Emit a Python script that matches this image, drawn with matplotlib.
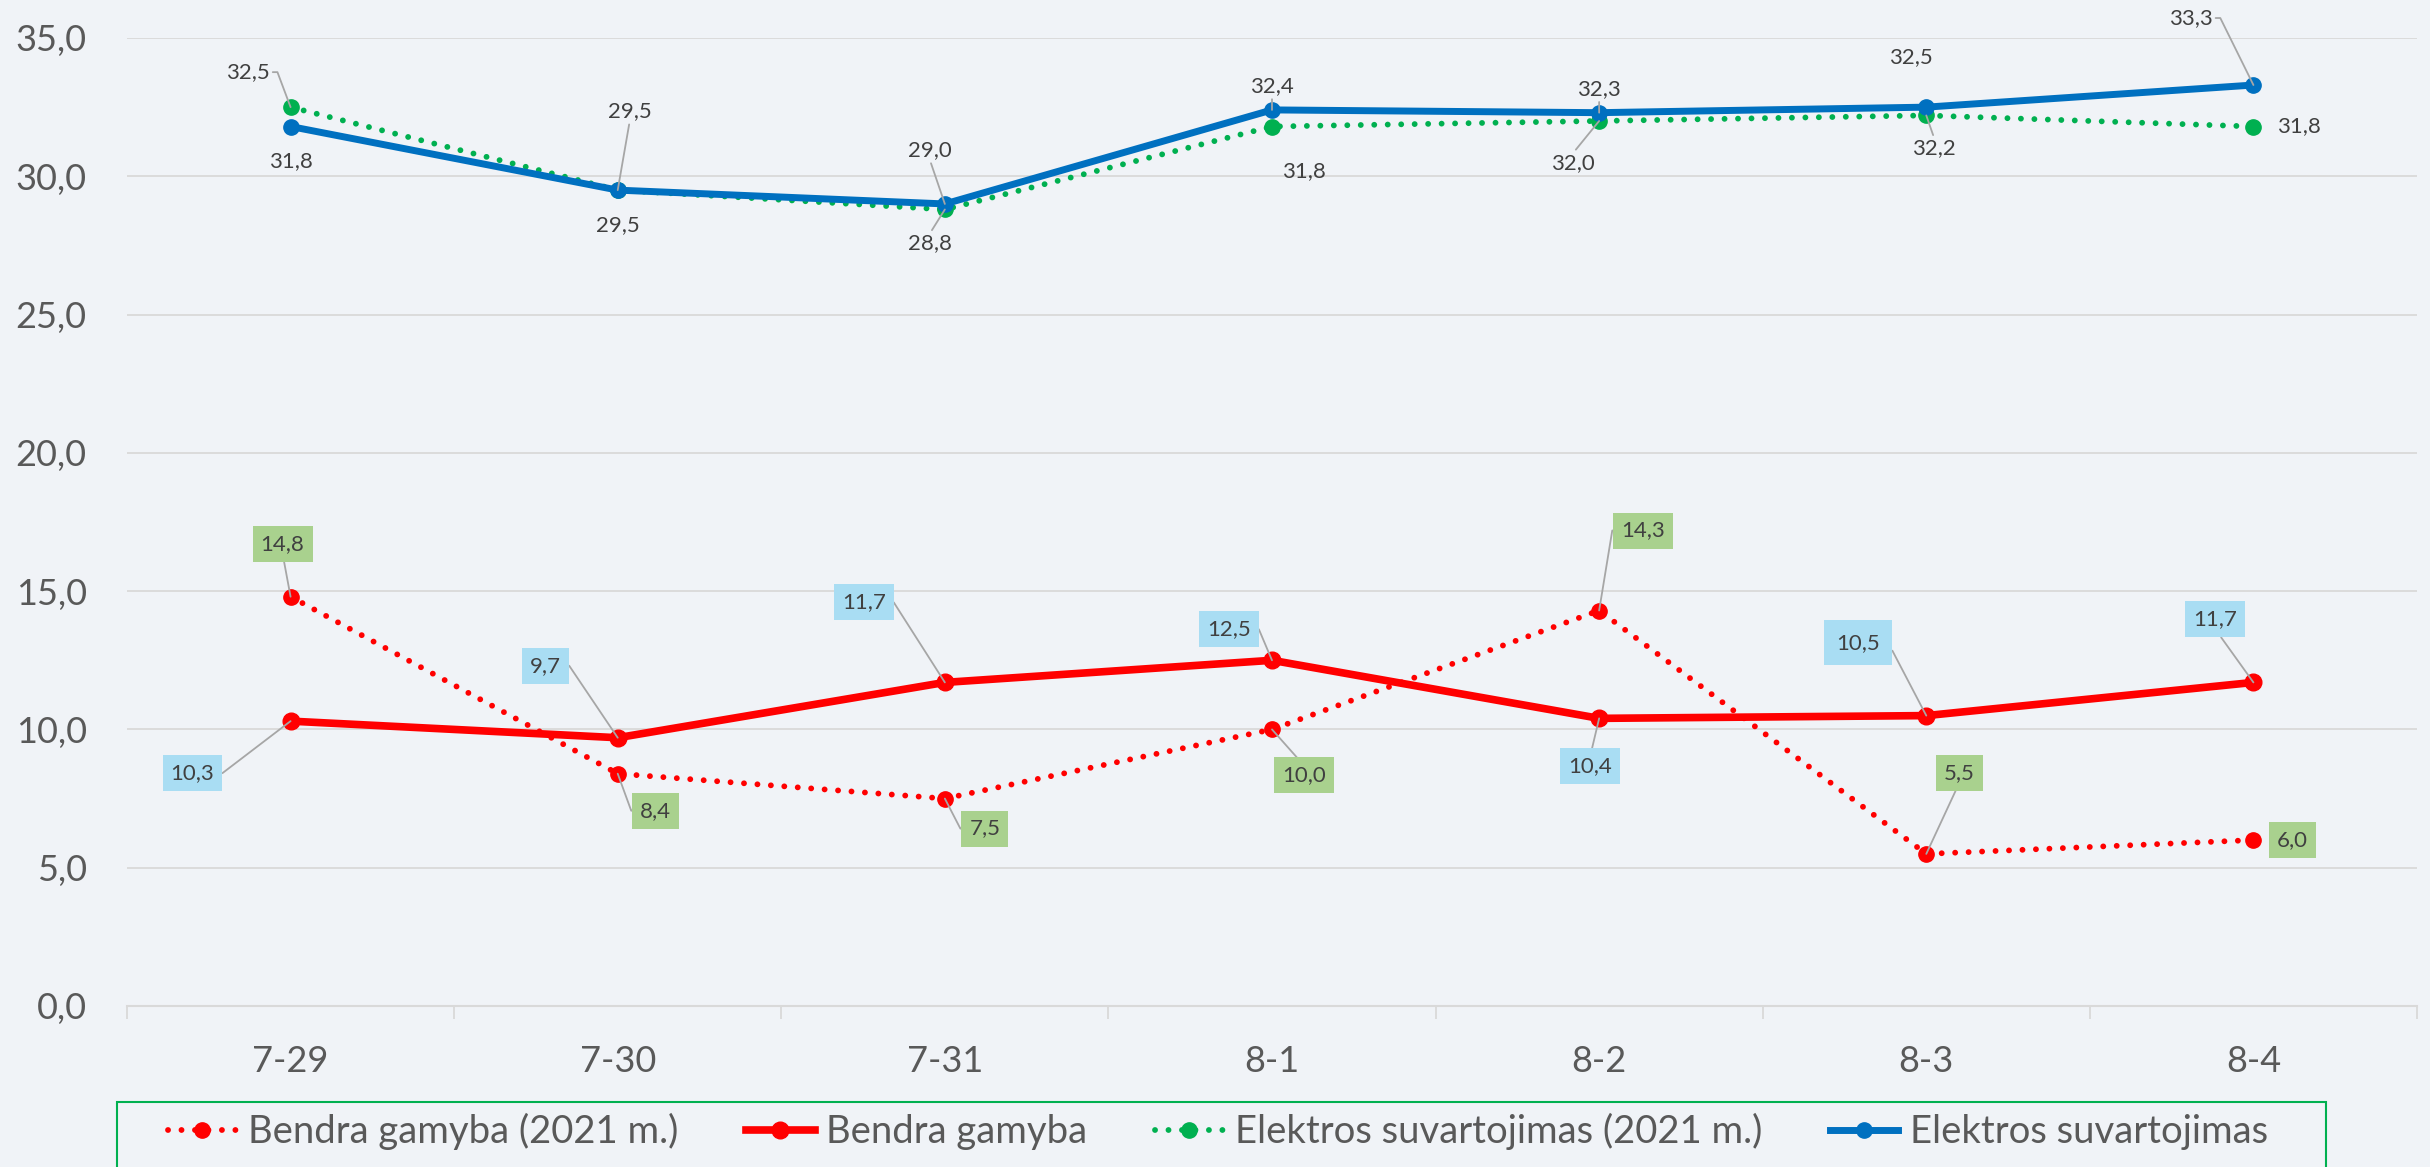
import numpy as np
import matplotlib
matplotlib.use("Agg")
import matplotlib.pyplot as plt
from matplotlib.patches import Rectangle

days = ["7-29", "7-30", "7-31", "8-1", "8-2", "8-3", "8-4"]
gen_2021 = [14.8, 8.4, 7.5, 10.0, 14.3, 5.5, 6.0]
gen = [10.3, 9.7, 11.7, 12.5, 10.4, 10.5, 11.7]
cons_2021 = [32.5, 29.5, 28.8, 31.8, 32.0, 32.2, 31.8]
cons = [31.8, 29.5, 29.0, 32.4, 32.3, 32.5, 33.3]
y_ticks = [0, 5, 10, 15, 20, 25, 30, 35]

# label placement: offset in pixels (right, down) and leader style
gen_2021_lbl = [(-8, -53, "up"), (38, 37, "left"), (40, 30, "left"), (32, 46, "down"),
                (44, -80, "left"), (33, -81, "up"), (39, 0, None)]
gen_lbl = [(-98, 52, "right"), (-72, -72, "right"), (-81, -80, "right"), (-43, -31, "right"),
           (-9, 48, "down"), (-68, -73, "right"), (-38, -63, "up")]
cons_2021_lbl = [(-43, -35, "right"), (0, 35, None), (-15, 34, "down"), (32, 45, None),
                 (-26, 42, "down"), (8, 33, "down"), (46, 0, None)]
cons_lbl = [(0, 35, None), (12, -79, "up"), (-15, -54, "up"), (0, -24, "up"),
            (0, -24, "up"), (-15, -50, None), (-63, -67, "right")]

RED = "#FF0000"
GREEN = "#00B050"
BLUE = "#0070C0"
BG = "#F0F3F7"
GRID = "#D9D9D9"
LEAD = "#A6A6A6"

plt.rcParams["font.family"] = ["Lato", "DejaVu Sans"]

fig = plt.figure(figsize=(24.3, 11.67), dpi=100, facecolor=BG)
ax = fig.add_axes([127 / 2430, 1 - 1006 / 1167, 2290 / 2430, (1006 - 38) / 1167])
ax.set_facecolor(BG)

x = np.arange(len(days))
dots = (0, (0.01, 2.3))

ax.plot(x, gen_2021, color=RED, lw=4.2, ls=dots, dash_capstyle="round",
        marker="o", ms=11, label="Bendra gamyba (2021 m.)", zorder=3)
ax.plot(x, gen, color=RED, lw=5.5, marker="o", ms=12, label="Bendra gamyba", zorder=3)
ax.plot(x, cons_2021, color=GREEN, lw=4.2, ls=dots, dash_capstyle="round",
        marker="o", ms=11, label="Elektros suvartojimas (2021 m.)", zorder=3)
ax.plot(x, cons, color=BLUE, lw=5, marker="o", ms=11, label="Elektros suvartojimas", zorder=4)

ax.set_xlim(-0.5, 6.5)
ax.set_ylim(0, 35)
ax.set_yticks(y_ticks)
ax.set_yticklabels([f"{v:.1f}".replace(".", ",") for v in y_ticks])
ax.set_xticks(x)
ax.set_xticklabels(days)
ax.set_xticks(np.arange(-0.5, 7, 1), minor=True)
ax.tick_params(axis="y", length=0, pad=29, labelsize=26, labelcolor="#595959")
ax.tick_params(axis="x", which="major", length=0, pad=28, labelsize=26, labelcolor="#595959")
ax.tick_params(axis="x", which="minor", length=9.5, width=1.3, color=GRID, direction="out")
ax.grid(axis="y", color=GRID, lw=1.3)
ax.set_axisbelow(True)
for s in ["left", "right", "top"]:
    ax.spines[s].set_visible(False)
ax.spines["bottom"].set_color(GRID)
ax.spines["bottom"].set_linewidth(1.5)


def fmt(v):
    return f"{v:.1f}".replace(".", ",")


def label(vals, specs, box=None, big=()):
    for i, (v, (dx, dy, lead)) in enumerate(zip(vals, specs)):
        pad = 0.55 if i in big else 0.36
        bb = dict(boxstyle=f"square,pad={pad}", fc=box, ec="none") if box else \
            dict(boxstyle="square,pad=0.15", fc="none", ec="none")
        ap = None
        if lead == "right":
            ap = dict(arrowstyle="-", color=LEAD, lw=1.3, shrinkA=0, shrinkB=0,
                      relpos=(1, 0.5), connectionstyle="arc,angleA=0,armA=8,angleB=0,armB=0,rad=0")
        elif lead == "left":
            ap = dict(arrowstyle="-", color=LEAD, lw=1.3, shrinkA=0, shrinkB=0,
                      relpos=(0, 0.5), connectionstyle="arc,angleA=180,armA=9,angleB=0,armB=0,rad=0")
        elif lead == "up":
            ap = dict(arrowstyle="-", color=LEAD, lw=1.3, shrinkA=0, shrinkB=0, relpos=(0.5, 0))
        elif lead == "down":
            ap = dict(arrowstyle="-", color=LEAD, lw=1.3, shrinkA=0, shrinkB=0, relpos=(0.5, 1))
        ax.annotate(fmt(v), (i, v), xytext=(dx, -dy), textcoords="offset pixels",
                    ha="center", va="center", fontsize=16, color="#404040",
                    bbox=bb, arrowprops=ap, zorder=5, annotation_clip=False)


label(gen_2021, gen_2021_lbl, box="#A9D18E")
label(gen, gen_lbl, box="#A9DDF3", big=(5,))
label(cons_2021, cons_2021_lbl)
label(cons, cons_lbl)

# legend
fig.add_artist(Rectangle((117 / 2430, -0.05), 2209 / 2430, 1 - 1102 / 1167 + 0.05,
                         transform=fig.transFigure, fill=False, ec=GREEN, lw=1.5))
fig.legend(loc="upper left", bbox_to_anchor=(168 / 2430, 0, 2100 / 2430, 1 - 1113 / 1167),
           mode="expand", ncol=4, frameon=False, borderaxespad=0, borderpad=0,
           fontsize=27.5, labelcolor="#595959", handlelength=1.8, handletextpad=0.3)

fig.savefig("out.png", dpi=100, facecolor=BG)
